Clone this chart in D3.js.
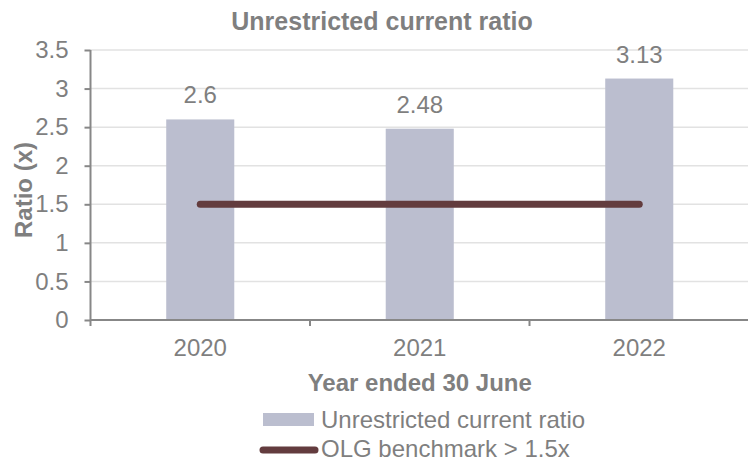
<!DOCTYPE html>
<html>
<head>
<meta charset="utf-8">
<title>Unrestricted current ratio</title>
<style>
	body { margin: 0; background: #fff; }
	text { font-family: "Liberation Sans", Arial, sans-serif; fill: #7f7f7f; }
</style>
</head>
<body>
<div id="chart"></div>
<script src="https://cdn.jsdelivr.net/npm/d3@7"></script>
<script>

var years = ["2020", "2021", "2022"];
var ratios = [2.6, 2.48, 3.13];
var benchmark = [1.5, 1.5, 1.5];
var yTicks = [0, 0.5, 1, 1.5, 2, 2.5, 3, 3.5];

var width = 748, height = 464;
var plotLeft = 90.5, plotRight = 749, plotTop = 50, plotBottom = 320;

var svg = d3.select("#chart").append("svg")
	.attr("width", width)
	.attr("height", height);

var x = d3.scaleBand().domain(years).range([plotLeft, plotRight]).padding(0);
var y = d3.scaleLinear().domain([0, 3.5]).range([plotBottom, plotTop]);
var barW = x.bandwidth() * 0.31;

// gridlines
svg.append("g")
	.selectAll("line")
	.data(yTicks.filter(function(d) { return d > 0; }))
	.join("line")
		.attr("x1", plotLeft).attr("x2", plotRight)
		.attr("y1", function(d) { return y(d); })
		.attr("y2", function(d) { return y(d); })
		.attr("stroke", "#e2e2e2")
		.attr("stroke-width", 1.5);

// bars
svg.append("g")
	.selectAll("rect")
	.data(years)
	.join("rect")
		.attr("x", function(d) { return x(d) + x.bandwidth() / 2 - barW / 2; })
		.attr("y", function(d, i) { return y(ratios[i]); })
		.attr("width", barW)
		.attr("height", function(d, i) { return plotBottom - y(ratios[i]); })
		.attr("fill", "#bbbecf");

// value labels
svg.append("g")
	.selectAll("text")
	.data(years)
	.join("text")
		.attr("x", function(d) { return x(d) + x.bandwidth() / 2; })
		.attr("y", function(d, i) { return y(ratios[i]) - 16; })
		.attr("text-anchor", "middle")
		.attr("font-size", "24px")
		.text(function(d, i) { return ratios[i]; });

// benchmark line
var line = d3.line()
	.x(function(d, i) { return x(years[i]) + x.bandwidth() / 2; })
	.y(function(d) { return y(d); });

svg.append("path")
	.datum(benchmark)
	.attr("d", line)
	.attr("fill", "none")
	.attr("stroke", "#633c3e")
	.attr("stroke-width", 7)
	.attr("stroke-linecap", "round");

// y axis
var yAxis = svg.append("g")
	.attr("transform", "translate(" + plotLeft + ",0)")
	.call(d3.axisLeft(y).tickValues(yTicks).tickSize(6).tickPadding(16).tickFormat(function(d) { return d; }));
yAxis.attr("font-family", null).attr("font-size", null);
yAxis.selectAll("text").attr("font-size", "24px");
yAxis.selectAll("line, path").attr("stroke", "#878787").attr("stroke-width", 2);
yAxis.select(".domain").attr("d", "M0," + plotTop + "V" + (plotBottom + 6));

// x axis
var xAxis = svg.append("g")
	.attr("transform", "translate(0," + plotBottom + ")")
	.call(d3.axisBottom(x).tickSize(0).tickPadding(19));
xAxis.attr("font-family", null).attr("font-size", null);
xAxis.select(".domain").attr("d", "M" + plotLeft + ",0H" + plotRight).attr("stroke", "#878787").attr("stroke-width", 2);
xAxis.selectAll("text").attr("font-size", "24px");
svg.append("g")
	.selectAll("line")
	.data(years.slice(1))
	.join("line")
		.attr("x1", function(d) { return x(d); }).attr("x2", function(d) { return x(d); })
		.attr("y1", plotBottom).attr("y2", plotBottom + 6)
		.attr("stroke", "#878787").attr("stroke-width", 2);

// titles
svg.append("text")
	.attr("x", 382).attr("y", 30)
	.attr("text-anchor", "middle")
	.attr("font-size", "25px").attr("font-weight", "bold")
	.text("Unrestricted current ratio");

svg.append("text")
	.attr("transform", "translate(32,190) rotate(-90)")
	.attr("text-anchor", "middle")
	.attr("font-size", "24px").attr("font-weight", "bold")
	.text("Ratio (x)");

svg.append("text")
	.attr("x", (plotLeft + plotRight) / 2).attr("y", 391)
	.attr("text-anchor", "middle")
	.attr("font-size", "24px").attr("font-weight", "bold")
	.text("Year ended 30 June");

// legend
var legend = svg.append("g").attr("transform", "translate(263,0)");
legend.append("rect")
	.attr("x", 0).attr("y", 413).attr("width", 51).attr("height", 13)
	.attr("fill", "#bbbecf");
legend.append("text")
	.attr("x", 58).attr("y", 428)
	.attr("font-size", "24px")
	.text("Unrestricted current ratio");
legend.append("line")
	.attr("x1", 0).attr("x2", 52).attr("y1", 450).attr("y2", 450)
	.attr("stroke", "#633c3e").attr("stroke-width", 7).attr("stroke-linecap", "round");
legend.append("text")
	.attr("x", 58).attr("y", 457)
	.attr("font-size", "24px")
	.text("OLG benchmark > 1.5x");

</script>
</body>
</html>
